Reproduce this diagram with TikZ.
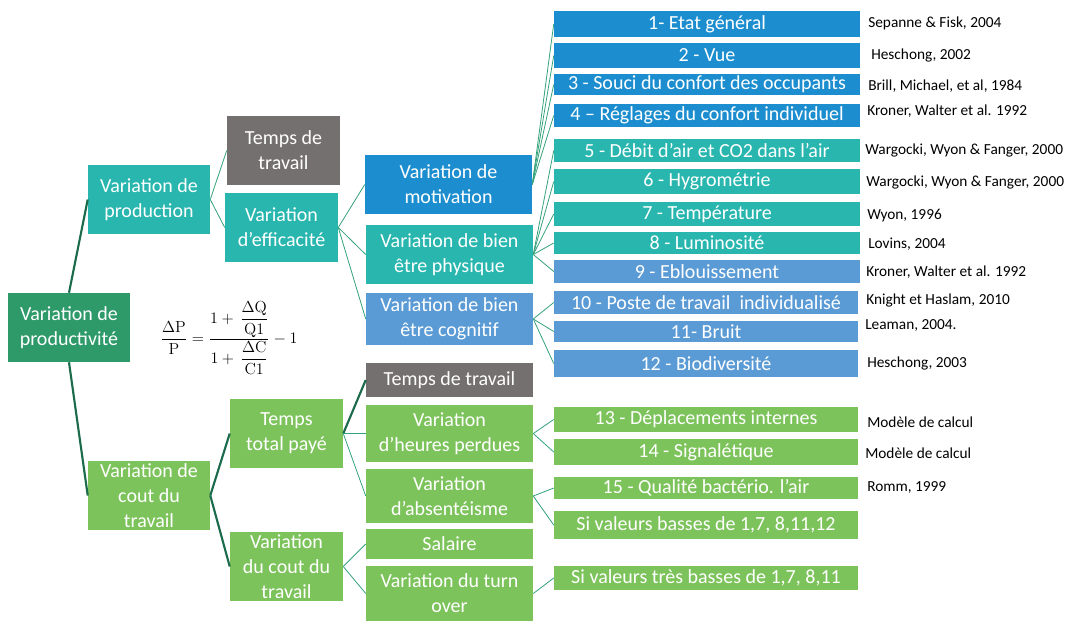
\documentclass[tikz,border=0pt]{standalone}
\usepackage{amsmath}
\usepackage[no-math]{fontspec}
\setmainfont{Carlito}
\definecolor{cRoot}{HTML}{2E9A6A}
\definecolor{cTeal}{HTML}{28B6AF}
\definecolor{cBlue}{HTML}{1C8ECF}
\definecolor{cLBlue}{HTML}{5B9BD5}
\definecolor{cGrey}{HTML}{757070}
\definecolor{cGreen}{HTML}{7DC35B}
\definecolor{lnThinC}{HTML}{34A27A}
\definecolor{lnThickC}{HTML}{1D6B4D}
\tikzset{
  bx/.style={rectangle, inner sep=0pt, text=white, align=center, font=\fontsize{15}{18.75}\selectfont},
  citetext/.style={anchor=west, inner sep=0pt, text=black, font=\fontsize{11.5}{13}\selectfont},
  lnthin/.style={draw=lnThinC, line width=0.6pt},
  lnthick/.style={draw=lnThickC, line width=1.6pt},
}
\newcommand\mybox[7]{%
  \pgfmathsetmacro\bxw{(#5-#3)*0.75}%
  \pgfmathsetmacro\bxh{(#6-#4)*0.75}%
  \node[bx, fill=#2, minimum width=\bxw pt, minimum height=\bxh pt] (#1) at ({(#3+#5)/2},{(#4+#6)/2}) {#7};%
}
\begin{document}
\begin{tikzpicture}[x=0.75pt, y=-0.75pt]
\useasboundingbox (0,0) rectangle (1069,622);
\fill[white] (0,0) rectangle (1069,622);
% left tree
\mybox{root}{cRoot}{8}{293}{130}{362}{\fontsize{15}{17}\selectfont Variation de\\productivité}
\mybox{prod}{cTeal}{88}{165}{210}{234}{Variation de\\production}
\mybox{ttop}{cGrey}{227}{116}{340}{185}{Temps de\\travail}
\mybox{eff}{cTeal}{225}{193}{338}{262}{Variation\\d’efficacité}
\mybox{mot}{cBlue}{365}{155}{532}{214}{Variation de\\motivation}
\mybox{phys}{cTeal}{366}{225}{533}{284}{Variation de bien\\être physique}
\mybox{cog}{cLBlue}{366}{293}{533}{345}{Variation de bien\\être cognitif}
% right top
\mybox{r1}{cBlue}{554}{11}{860}{37}{1- Etat général}
\mybox{r2}{cBlue}{554}{43}{860}{68}{2 - Vue}
\mybox{r3}{cBlue}{554}{74}{860}{95}{3 - Souci du confort des occupants}
\mybox{r4}{cBlue}{554}{104}{860}{127}{4 – Réglages du confort individuel}
\mybox{r5}{cTeal}{554}{139}{860}{162}{5 - Débit d’air et CO2 dans l’air}
\mybox{r6}{cTeal}{554}{169}{860}{194}{6 - Hygrométrie}
\mybox{r7}{cTeal}{554}{202}{860}{226}{7 - Température}
\mybox{r8}{cTeal}{554}{232}{860}{254}{8 - Luminosité}
\mybox{r9}{cLBlue}{554}{260}{860}{283}{9 - Eblouissement}
\mybox{r10}{cLBlue}{554}{291}{858}{314}{10 - Poste de travail\ \ individualisé}
\mybox{r11}{cLBlue}{554}{321}{858}{342}{11- Bruit}
\mybox{r12}{cLBlue}{554}{350}{858}{377}{12 - Biodiversité}
% bottom tree
\mybox{cout}{cGreen}{88}{461}{210}{530}{Variation de\\cout du\\travail}
\mybox{ttp}{cGreen}{230}{399}{343}{468}{Temps\\total payé}
\mybox{vct}{cGreen}{230}{532}{343}{601}{Variation\\du cout du\\travail}
\mybox{tbot}{cGrey}{366}{363}{533}{397}{Temps de travail}
\mybox{hp}{cGreen}{366}{405}{533}{462}{Variation\\d’heures perdues}
\mybox{abs}{cGreen}{366}{469}{533}{523}{Variation\\d’absentéisme}
\mybox{sal}{cGreen}{366}{529}{533}{559}{Salaire}
\mybox{turn}{cGreen}{366}{566}{533}{621}{Variation du turn\\over}
\mybox{r13}{cGreen}{554}{407}{858}{432}{13 - Déplacements internes}
\mybox{r14}{cGreen}{554}{439}{858}{465}{14 - Signalétique}
\mybox{r15}{cGreen}{554}{477}{858}{499}{15 - Qualité bactério. l’air}
\mybox{rsi}{cGreen}{554}{511}{858}{539}{Si valeurs basses de 1,7, 8,11,12}
\mybox{rtb}{cGreen}{554}{566}{858}{590}{Si valeurs très basses de 1,7, 8,11}
% citations
\node[citetext] (c1) at (868,23) {Sepanne \& Fisk, 2004};
\node[citetext] (c2) at (871,55) {Heschong, 2002};
\node[citetext] (c3) at (868,86) {Brill, Michael, et al, 1984};
\node[citetext] (c4) at (867,111) {Kroner, Walter et al. 1992};
\node[citetext] (c5) at (865,150) {Wargocki, Wyon \& Fanger, 2000};
\node[citetext] (c6) at (866,182) {Wargocki, Wyon \& Fanger, 2000};
\node[citetext] (c7) at (867,216) {Wyon, 1996};
\node[citetext] (c8) at (868,244) {Lovins, 2004};
\node[citetext] (c9) at (866,272) {Kroner, Walter et al. 1992};
\node[citetext] (c10) at (866,300) {Knight et Haslam, 2010};
\node[citetext] (c11) at (865,325) {Leaman, 2004.};
\node[citetext] (c12) at (867,363) {Heschong, 2003};
\node[citetext] (c13) at (867,422) {Modèle de calcul};
\node[citetext] (c14) at (865,453) {Modèle de calcul};
\node[citetext] (c15) at (867,487) {Romm, 1999};
% formula
\node[inner sep=0pt, font=\fontsize{13}{15}\selectfont] (formula) at (229,338)
  {$\dfrac{\Delta\mathrm{P}}{\mathrm{P}} = \dfrac{1+\,\dfrac{\Delta\mathrm{Q}}{\mathrm{Q1}}}{1+\,\dfrac{\Delta\mathrm{C}}{\mathrm{C1}}} - 1$};
% connectors
\draw[lnthick] (root.north) -- (prod.west);
\draw[lnthick] (root.south) -- (cout.west);
\draw[lnthick] (cout.east) -- (ttp.west);
\draw[lnthick] (cout.east) -- (vct.west);
\draw[lnthick] (ttp.east) -- (tbot.west);
\draw[lnthin] (prod.east) -- (ttop.west);
\draw[lnthin] (prod.east) -- (eff.west);
\foreach \t in {mot,phys,cog} \draw[lnthin] (eff.east) -- (\t.west);
\foreach \t in {r1,r2,r3,r4} \draw[lnthin] (mot.east) -- (\t.west);
\foreach \t in {r5,r6,r7,r8,r9} \draw[lnthin] (phys.east) -- (\t.west);
\foreach \t in {r10,r11,r12} \draw[lnthin] (cog.east) -- (\t.west);
\foreach \t in {hp,abs} \draw[lnthin] (ttp.east) -- (\t.west);
\foreach \t in {sal,turn} \draw[lnthin] (vct.east) -- (\t.west);
\foreach \t in {r13,r14} \draw[lnthin] (hp.east) -- (\t.west);
\foreach \t in {r15,rsi} \draw[lnthin] (abs.east) -- (\t.west);
\draw[lnthin] (turn.east) -- (rtb.west);
\end{tikzpicture}
\end{document}
